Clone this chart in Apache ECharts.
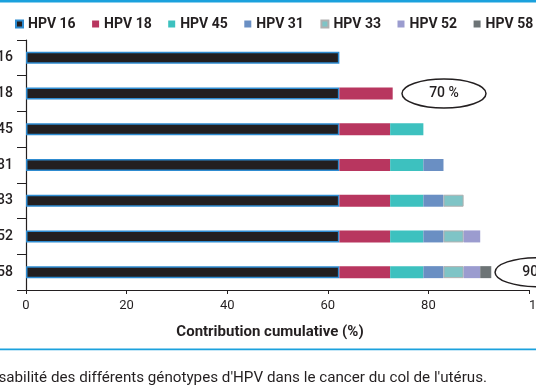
<!DOCTYPE html>
<html><head><meta charset="utf-8">
<script src="https://cdn.jsdelivr.net/npm/echarts@6/dist/echarts.min.js"></script>
<style>html,body{margin:0;padding:0;background:#fff}#c{width:536px;height:386px}</style>
</head><body><div id="c"></div>
<script>
const categories = ['HPV 16', '+ HPV 18', '+ HPV 45', '+ HPV 31', '+ HPV 33', '+ HPV 52', '+ HPV 58'];
const seriesNames = ['HPV 16', 'HPV 18', 'HPV 45', 'HPV 31', 'HPV 33', 'HPV 52', 'HPV 58'];
const hpv16 = [62.3, 62.3, 62.3, 62.3, 62.3, 62.3, 62.3];
const hpv18 = [null, 10.6, 10.1, 10.1, 10.1, 10.1, 10.1];
const hpv45 = [null, null, 6.6, 6.6, 6.6, 6.6, 6.6];
const hpv31 = [null, null, null, 4.0, 4.0, 4.0, 4.0];
const hpv33 = [null, null, null, null, 4.0, 4.0, 4.0];
const hpv52 = [null, null, null, null, null, 3.3, 3.3];
const hpv58 = [null, null, null, null, null, null, 2.2];
const xTicks = [0, 20, 40, 60, 80, 100];
const annotations = [
  { text: '70 %', value: 83.1, category: '+ HPV 18' },
  { text: '90 %', value: 101.6, category: '+ HPV 58' }
];
const caption = "Responsabilité des différents génotypes d'HPV dans le cancer du col de l'utérus.";

const seriesData = [hpv16, hpv18, hpv45, hpv31, hpv33, hpv52, hpv58];
const styles = [
  { color: '#231f20', borderColor: '#2e8bd0', borderWidth: 1.5 },
  { color: '#b8365f' },
  { color: '#3dc1bf' },
  { color: '#6a8fc3' },
  { color: '#7fc4c6', borderColor: '#b0b0b0', borderWidth: 1 },
  { color: '#9b9ccf' },
  { color: '#6d7476' }
];
const ink = '#231f20';
const FONT = 'Roboto';

const chart = echarts.init(document.getElementById('c'), null, { renderer: 'canvas' });
chart.setOption({
  animation: false,
  backgroundColor: '#fff',
  textStyle: { fontFamily: FONT },
  legend: {
    left: 10, top: 12, width: 700,
    itemWidth: 7, itemHeight: 7, itemGap: 16.5,
    icon: 'rect',
    textStyle: { fontFamily: FONT, fontSize: 14, fontWeight: 'bold', color: ink },
    data: seriesNames
  },
  grid: { left: 26, right: 7, top: 40, bottom: 96, containLabel: false, outerBoundsMode: 'none' },
  xAxis: {
    type: 'value', min: 0, max: 100, interval: 20,
    name: 'Contribution cumulative (%)', nameLocation: 'middle', nameGap: 35,
    nameTextStyle: { fontFamily: FONT, fontSize: 15, fontWeight: 'bold', color: ink, padding: [0, 15, 0, 0] },
    axisLine: { show: true, lineStyle: { color: ink, width: 1.2 } },
    axisTick: { show: true, length: 4, lineStyle: { color: ink, width: 1 } },
    axisLabel: { fontFamily: FONT, fontSize: 13, color: ink, margin: 9,
      alignMinLabel: 'center', alignMaxLabel: 'left',
      formatter: v => xTicks.includes(v) ? String(v) : '' },
    splitLine: { show: false }
  },
  yAxis: {
    type: 'category', inverse: true, data: categories,
    axisLine: { show: true, lineStyle: { color: ink, width: 1.2 } },
    axisTick: { show: true, length: 9, lineStyle: { color: ink, width: 1 } },
    axisLabel: { fontFamily: FONT, fontSize: 14, fontWeight: 500, color: ink, margin: 13 },
    splitLine: { show: false }
  },
  series: seriesNames.map((n, i) => ({
    name: n, type: 'bar', stack: 'total', barWidth: 12,
    data: seriesData[i], itemStyle: styles[i]
  }))
});

function place() {
  const g = [
    { type: 'rect', shape: { x: 0, y: 0, width: 536, height: 2.5 }, style: { fill: '#1ba1dd' }, silent: true },
    { type: 'rect', shape: { x: 0, y: 348.5, width: 536, height: 1.8 }, style: { fill: '#1ba1dd' }, silent: true },
    { type: 'text', x: 487, y: 378, style: { text: caption, fill: ink, font: '15.2px ' + FONT, align: 'right', verticalAlign: 'middle' } }
  ];
  annotations.forEach(a => {
    const p = chart.convertToPixel({ gridIndex: 0 }, [a.value, a.category]);
    g.push({ type: 'ellipse', shape: { cx: p[0], cy: p[1], rx: 42, ry: 14.5 }, style: { fill: '#fff', stroke: ink, lineWidth: 1.5 } });
    g.push({ type: 'text', x: p[0], y: p[1], style: { text: a.text, fill: ink, font: '500 14px ' + FONT, align: 'center', verticalAlign: 'middle' } });
  });
  chart.setOption({ graphic: g });
}
place();
</script></body></html>
